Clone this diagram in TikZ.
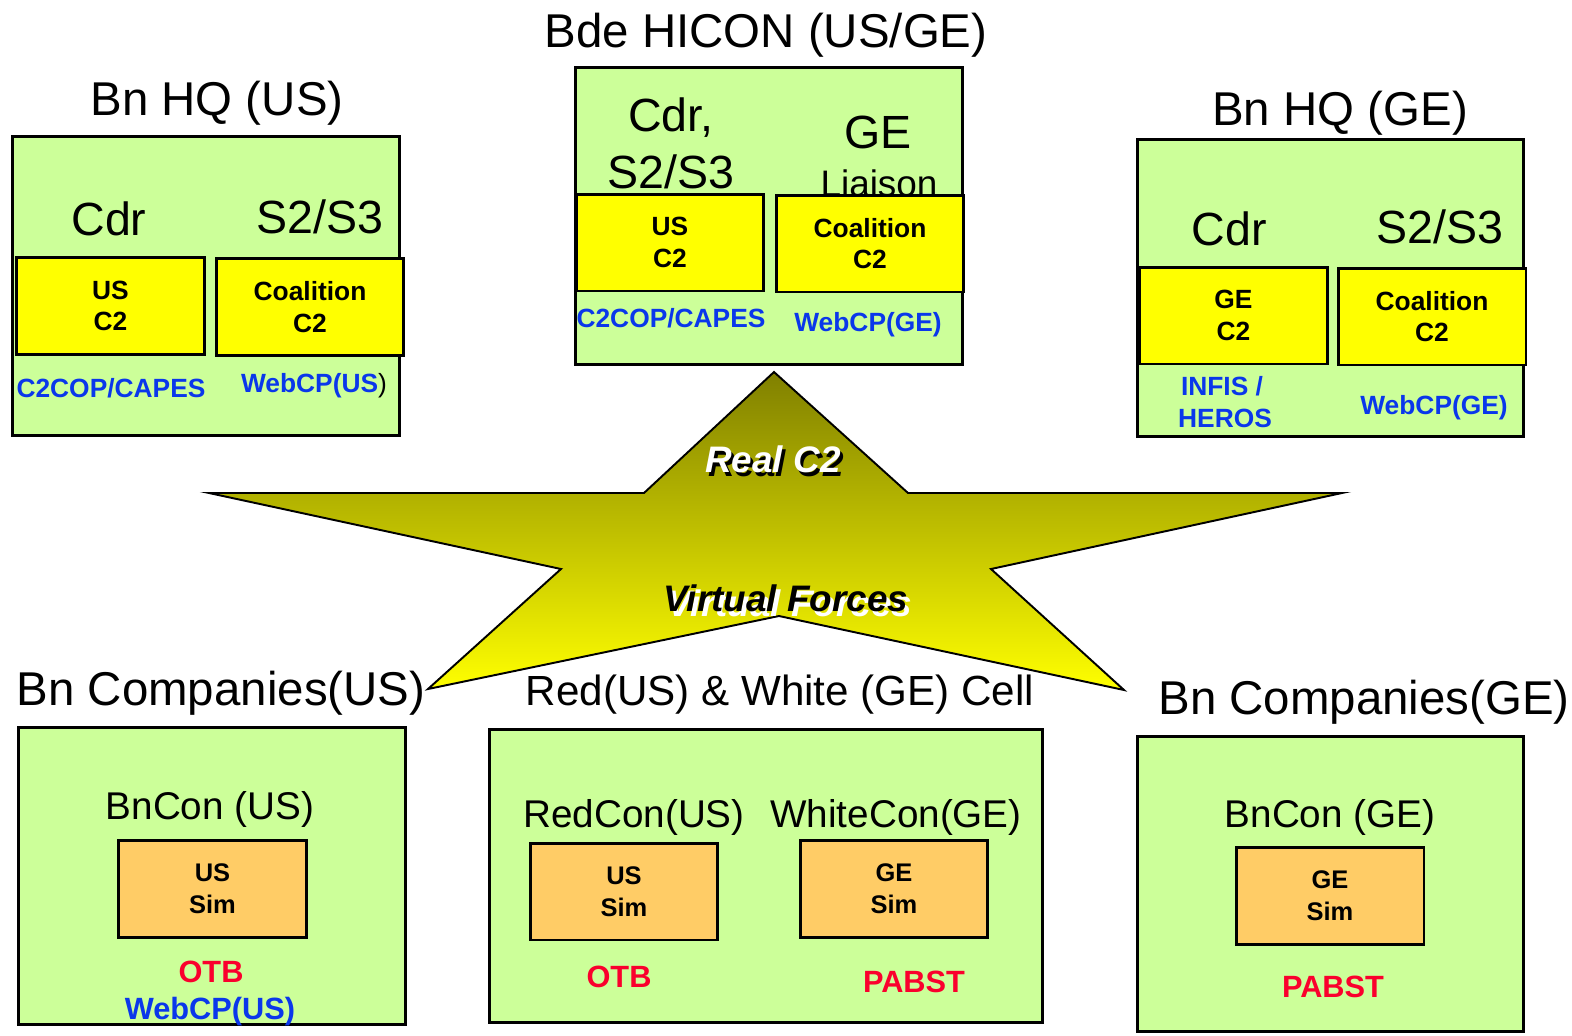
\documentclass[tikz,border=0pt]{standalone}
\usepackage{fontspec}
\setmainfont{Liberation Sans}

\definecolor{panelgreen}{RGB}{204,255,153}
\definecolor{c2yellow}{RGB}{255,255,0}
\definecolor{simorange}{RGB}{255,204,102}
\definecolor{toolblue}{RGB}{10,55,235}
\definecolor{simred}{RGB}{250,0,45}
\definecolor{starolive}{RGB}{128,128,0}

% text with an offset shadow behind it
\newcommand{\shadowed}[4]{\makebox[0pt][l]{\hspace{#3}\raisebox{#4}{\color{#2}#1}}#1}

\begin{document}
\begin{tikzpicture}[x=0.02cm,y=-0.02cm,
  panel/.style={draw, line width=1.7pt, fill=panelgreen, minimum width=7.74cm, minimum height=5.96cm, inner sep=0pt},
  c2/.style={draw, line width=1.7pt, fill=c2yellow, minimum width=3.76cm, minimum height=1.94cm, inner sep=0pt, align=center, font=\bfseries\fontsize{15}{18}\selectfont},
  sim/.style={c2, fill=simorange, font=\bfseries\fontsize{14.5}{18}\selectfont},
  head/.style={anchor=base, font=\fontsize{27}{31}\selectfont},
  role/.style={anchor=base, font=\fontsize{26.5}{30}\selectfont},
  con/.style={anchor=base, font=\fontsize{22}{26}\selectfont},
  tool/.style={anchor=base, text=toolblue, font=\bfseries\fontsize{15}{18}\selectfont},
  simtool/.style={anchor=base, text=simred, font=\bfseries\fontsize{17.5}{20}\selectfont},
  startext/.style={anchor=base, font=\bfseries\itshape\fontsize{21}{24}\selectfont}]
\useasboundingbox (0,0) rectangle (1572,1035);

% panels
\node[panel, minimum height=6cm] (hqus) at (206,286) {};
\node[panel] (hicon) at (769,216) {};
\node[panel] (hqge) at (1330.5,288) {};
\node[panel] (cous) at (212,876) {};
\node[panel, minimum width=11.08cm, minimum height=5.88cm] (cell) at (766,876) {};
\node[panel, minimum height=5.92cm] (coge) at (1330.5,884) {};

% star
\shade[draw, line width=1.1pt, top color=starolive, bottom color=c2yellow]
  (774,372) -- (908,493) -- (1342,493) -- (991,569) -- (1124,690)
  -- (779,616) -- (428,689) -- (561,569) -- (209,493) -- (644,493) -- cycle;
\node[startext, text=white] (real) at (773,472) {\shadowed{Real C2}{black}{1.7pt}{-2.3pt}};
\node[startext, text=black] (virt) at (786,611) {\shadowed{Virtual Forces}{white}{2.3pt}{-3.4pt}};

% titles
\node[head] (hqus-title) at (217,115) {Bn HQ (US)};
\node[head] (hicon-title) at (766,47) {Bde HICON (US/GE)};
\node[head] (hqge-title) at (1340,125) {Bn HQ (GE)};
\node[head] (cous-title) at (221,705) {Bn Companies(US)};
\node[head, font=\fontsize{24}{28}\selectfont] (cell-title) at (780,705) {Red(US) \& White (GE) Cell};
\node[head] (coge-title) at (1364,714) {Bn Companies(GE)};

% Bn HQ (US)
\node[role] (hqus-cdr) at (109,235) {Cdr};
\node[role] (hqus-s23) at (320,233) {S2/S3};
\node[c2] (hqus-us) at (110.5,306) {US\\C2};
\node[c2] (hqus-coal) at (310,307) {Coalition\\C2};
\node[tool] (hqus-cop) at (111,397) {C2COP/CAPES};
\node[tool] (hqus-web) at (314,392) {WebCP(US{\color{black}\mdseries)}};

% Bde HICON
\node[role] (hicon-cdr) at (671,131) {Cdr,};
\node[role] (hicon-s23) at (671,188) {S2/S3};
\node[role] (hicon-ge) at (878,148) {GE};
\node[role, font=\fontsize{21}{24}\selectfont] (hicon-liaison) at (879,196) {Liaison};
\node[c2] (hicon-us) at (670,242.5) {US\\C2};
\node[c2] (hicon-coal) at (870,243.5) {Coalition\\C2};
\node[tool] (hicon-cop) at (671,327) {C2COP/CAPES};
\node[tool] (hicon-web) at (868,331) {WebCP(GE)};

% Bn HQ (GE)
\node[role] (hqge-cdr) at (1229,245) {Cdr};
\node[role] (hqge-s23) at (1440,243) {S2/S3};
\node[c2] (hqge-ge) at (1233.5,315.5) {GE\\C2};
\node[c2] (hqge-coal) at (1432,316.5) {Coalition\\C2};
\node[tool] (hqge-infis) at (1222,395) {INFIS /};
\node[tool] (hqge-heros) at (1225,427) {HEROS};
\node[tool] (hqge-web) at (1434,414) {WebCP(GE)};

% Bn Companies (US)
\node[con] (cous-con) at (210,819) {BnCon (US)};
\node[sim] (cous-sim) at (212.5,889) {US\\Sim};
\node[simtool] (cous-otb) at (211,982) {OTB};
\node[simtool, text=toolblue] (cous-web) at (210,1019) {WebCP(US)};

% Red & White cell
\node[con] (cell-red) at (634,827) {RedCon(US)};
\node[con] (cell-white) at (896,827) {WhiteCon(GE)};
\node[sim] (cell-us) at (624,891.5) {US\\Sim};
\node[sim] (cell-ge) at (894,889) {GE\\Sim};
\node[simtool] (cell-otb) at (619,987) {OTB};
\node[simtool] (cell-pabst) at (914,992) {PABST};

% Bn Companies (GE)
\node[con] (coge-con) at (1330,827) {BnCon (GE)};
\node[sim] (coge-sim) at (1330,896) {GE\\Sim};
\node[simtool] (coge-pabst) at (1333,997) {PABST};
\end{tikzpicture}
\end{document}
